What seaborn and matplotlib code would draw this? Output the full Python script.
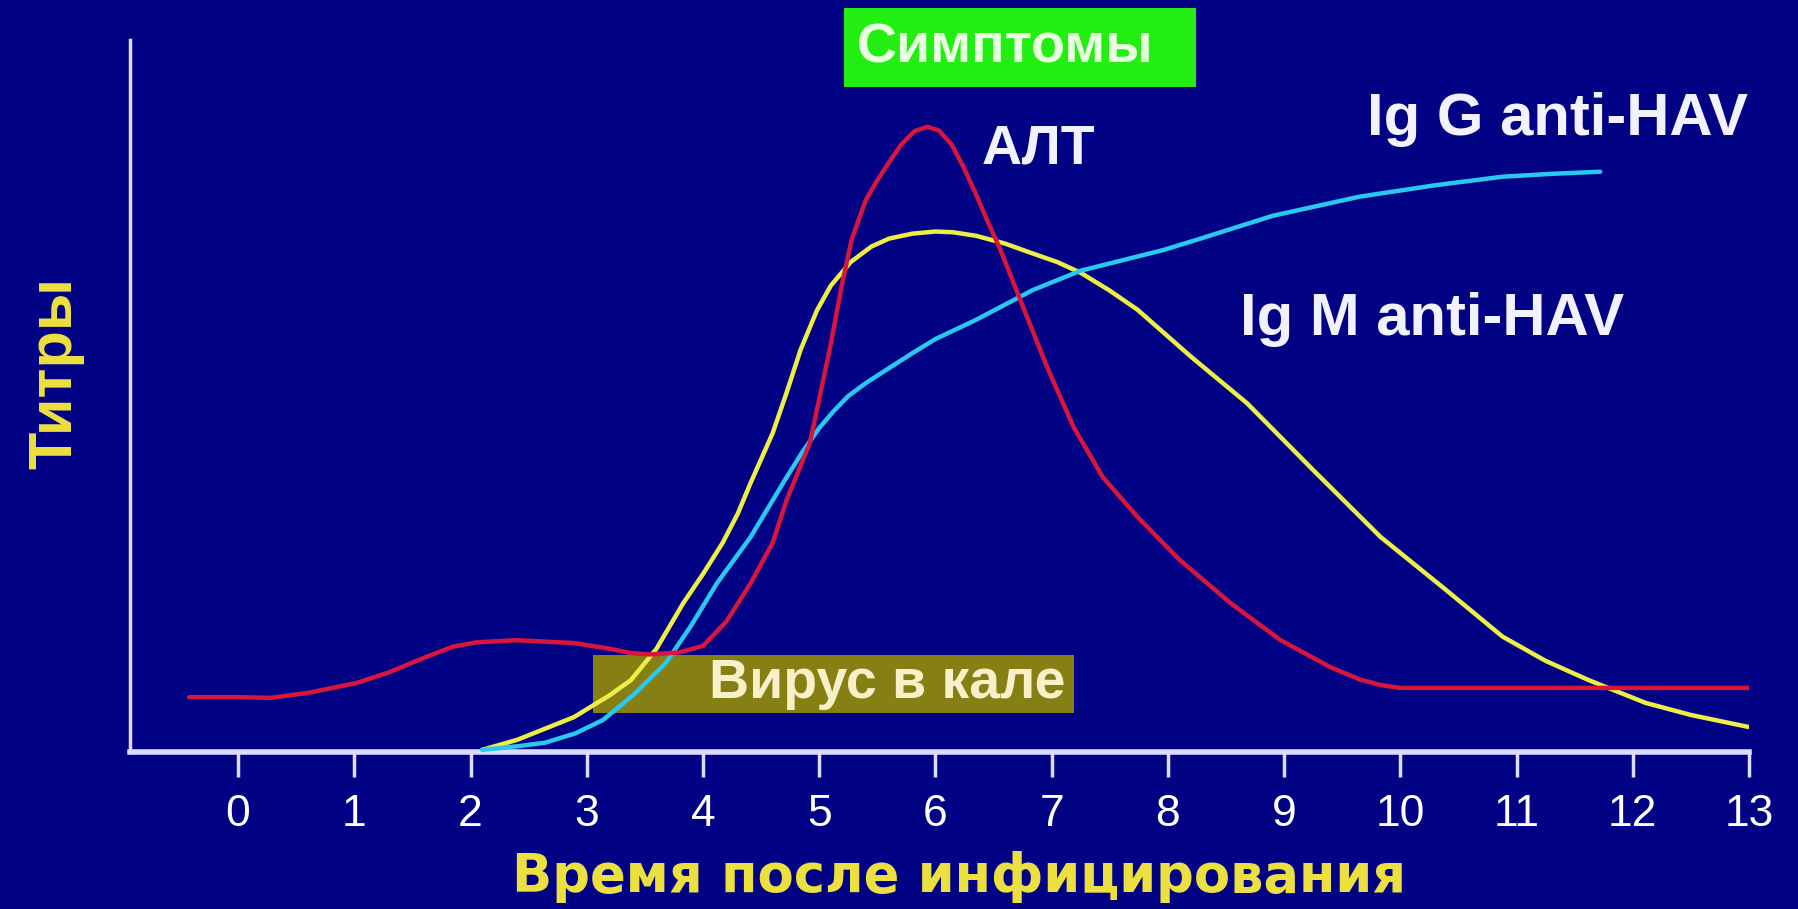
import matplotlib
matplotlib.use("Agg")
import matplotlib.pyplot as plt
from matplotlib.patches import Rectangle
import pandas as pd
import seaborn as sns

# Hepatitis A: titres vs time after infection
alt_t = [-0.42, 0.0, 0.28, 0.6, 1.02, 1.3, 1.61, 1.85, 2.05, 2.4, 2.89, 3.2, 3.38,
         3.55, 3.8, 4.0, 4.2, 4.41, 4.6, 4.72, 4.92, 5.09, 5.2, 5.28, 5.4, 5.5, 5.6,
         5.7, 5.82, 5.93, 6.03, 6.14, 6.24, 6.35, 6.45, 6.56, 6.73, 6.96, 7.19, 7.44,
         7.74, 8.1, 8.54, 8.97, 9.4, 9.65, 9.83, 10.0, 11.0, 12.0, 13.0]
alt_v = [7.7, 7.7, 7.6, 8.3, 9.7, 11.2, 13.3, 14.8, 15.4, 15.7, 15.3, 14.5, 13.9,
         13.7, 14.0, 14.9, 18.3, 23.7, 29.4, 35.4, 43.4, 56.5, 66.0, 72.0, 77.5, 80.3, 82.8,
         85.2, 87.2, 87.8, 87.3, 85.3, 82.2, 78.3, 74.5, 70.5, 63.5, 54.1, 45.6, 38.6,
         33.0, 27.0, 20.9, 15.7, 11.9, 10.2, 9.4, 9.0, 9.0, 9.0, 9.0]

igm_t = [2.1, 2.4, 2.89, 3.2, 3.38, 3.6, 3.83, 4.0, 4.17, 4.3, 4.41, 4.6, 4.72, 4.84,
         4.98, 5.1, 5.27, 5.45, 5.6, 5.8, 6.0, 6.15, 6.35, 6.6, 6.84, 7.05, 7.25, 7.5,
         7.74, 8.2, 8.68, 9.25, 9.83, 10.39, 10.88, 11.25, 11.62, 12.11, 12.5, 13.0]
igm_v = [0.3, 1.7, 4.9, 8.0, 10.1, 14.5, 20.9, 25.0, 29.4, 33.5, 37.8, 44.8, 50.5, 56.5,
         62.0, 65.5, 68.8, 71.0, 72.1, 72.8, 73.1, 73.0, 72.5, 71.4, 70.0, 68.8, 67.3, 64.8,
         62.1, 55.5, 49.0, 39.6, 30.2, 22.8, 16.2, 12.8, 10.1, 6.9, 5.2, 3.5]

igg_t = [2.1, 2.4, 2.64, 2.9, 3.14, 3.4, 3.68, 3.9, 4.12, 4.41, 4.69, 4.85, 5.0,
         5.12, 5.25, 5.4, 5.58, 5.8, 6.0, 6.35, 6.84, 7.25, 7.96, 8.26, 8.9, 9.65,
         10.3, 10.88, 11.3, 11.72]
igg_v = [0.3, 0.8, 1.3, 2.6, 4.5, 8.0, 12.5, 17.8, 23.7, 30.2, 37.8, 42.0, 45.5,
         47.8, 50.0, 51.8, 53.7, 56.0, 58.0, 60.7, 64.9, 67.6, 70.5, 72.0, 75.3, 78.0,
         79.6, 80.8, 81.2, 81.5]

x_ticks = list(range(0, 14))
virus_period = (3.05, 7.19)      # "Вирус в кале" band
symptom_period = (5.21, 8.24)    # "Симптомы" band

bg = "#020285"
axis_col = "#dcdcff"
red = "#d8163c"
yellow = "#eeee44"
cyan = "#28c8f0"
label_yellow = "#ece040"

sns.set_style("white", rc={"axes.facecolor": bg, "figure.facecolor": bg})
plt.rcParams["font.family"] = ["Liberation Sans", "DejaVu Sans"]

fig = plt.figure(figsize=(17.99, 9.09), dpi=100)
ax = fig.add_axes([130 / 1799, 157 / 909, 1619 / 1799, 712 / 909])
ax.set_facecolor(bg)

# bands behind the curves
ax.add_patch(Rectangle((virus_period[0], 5.5), virus_period[1] - virus_period[0], 8.1,
                       facecolor="#857f14", edgecolor="none", zorder=1))
ax.add_patch(Rectangle((symptom_period[0], 93.4), symptom_period[1] - symptom_period[0], 11.1,
                       facecolor="#22ee11", edgecolor="none", zorder=1, clip_on=False))

sns.lineplot(x=igm_t, y=igm_v, ax=ax, color=yellow, linewidth=3.2, sort=False,
             estimator=None, zorder=3)
sns.lineplot(x=igg_t, y=igg_v, ax=ax, color=cyan, linewidth=3.2, sort=False,
             estimator=None, zorder=3)
sns.lineplot(x=alt_t, y=alt_v, ax=ax, color=red, linewidth=3.2, sort=False,
             estimator=None, zorder=4)

ax.set_xlim(-0.93, 13.0)
ax.set_ylim(0, 100)
ax.set_xticks(x_ticks)
ax.set_yticks([])
ax.tick_params(axis="x", bottom=True, direction="out", length=18, width=2.5,
               color=axis_col, pad=12, labelsize=32, labelcolor="white")

for s in ["top", "right"]:
    ax.spines[s].set_visible(False)
ax.spines["left"].set_color(axis_col)
ax.spines["left"].set_linewidth(2.5)
ax.spines["bottom"].set_color(axis_col)
ax.spines["bottom"].set_linewidth(4)

ax.set_xlabel("Время после инфицирования", fontsize=38, fontweight="bold",
              color=label_yellow, family=["DejaVu Sans"], va="baseline")
ax.xaxis.set_label_coords(0.512, -0.196)
ax.set_ylabel("Титры", fontsize=44, fontweight="bold", color=label_yellow, va="center")
ax.yaxis.set_label_coords(-0.046, 0.532)

ax.text(6.6, 96.9, "Симптомы", fontsize=40, fontweight="bold", color="#e8ffe0",
        ha="center", va="baseline", zorder=5, clip_on=False)
ax.text(6.89, 82.7, "АЛТ", fontsize=40, fontweight="bold", color="#f2f2ff",
        ha="center", va="baseline", zorder=5)
ax.text(11.35, 86.7, "Ig G anti-HAV", fontsize=43, fontweight="bold", color="#f2f2ff",
        ha="center", va="baseline", zorder=5, clip_on=False)
ax.text(10.27, 58.6, "Ig M anti-HAV", fontsize=43, fontweight="bold", color="#f2f2ff",
        ha="center", va="baseline", zorder=5)
ax.text(7.12, 7.6, "Вирус в кале", fontsize=40, fontweight="bold", color="#f8f0c8",
        ha="right", va="baseline", zorder=5)

fig.savefig("out.png", dpi=100, facecolor=bg)
